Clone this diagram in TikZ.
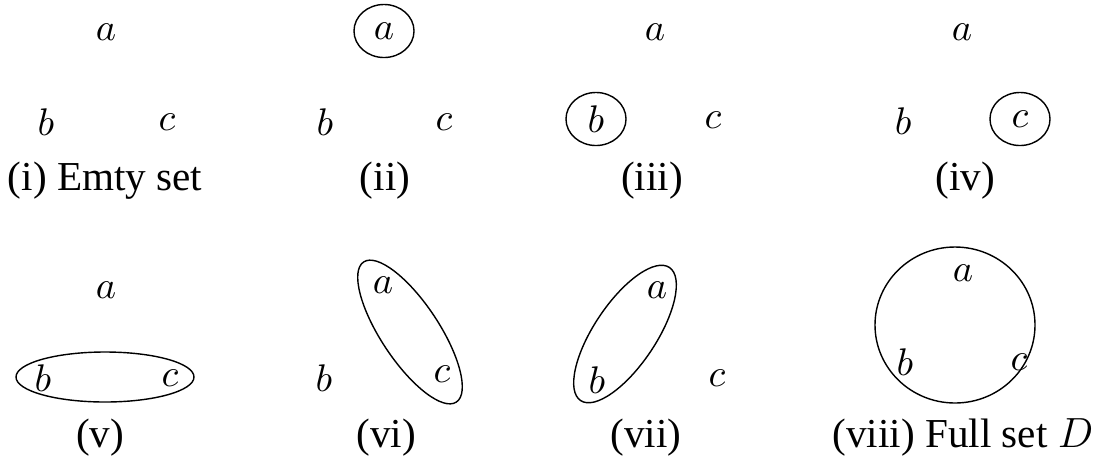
\documentclass[tikz,border=0pt]{standalone}
\usepackage{fontspec}
\setmainfont{Liberation Serif}
\usetikzlibrary{shapes.geometric}
\begin{document}
\begin{tikzpicture}[x=0.01cm,y=-0.01cm,font=\fontsize{11}{13}\selectfont,
      elt/.style={inner sep=0pt},
      sel/.style={draw,ellipse,minimum width=0.6cm,minimum height=0.53cm,inner sep=0pt},
      lbl/.style={inner sep=0pt,anchor=base,font=\fontsize{11.7}{14}\selectfont}]
    \useasboundingbox (0,0) rectangle (1097,457);
    % --- (i) ---
    \node[elt] (a1) at (106,32) {$a$};
    \node[elt] (b1) at (46,122) {$b$};
    \node[elt] (c1) at (167,122) {$c$};
    \node[lbl] (l1) at (105,190) {(i) Emty set};
    % --- (ii) ---
    \node[sel] (a2) at (384,31) {$a$};
    \node[elt] (b2) at (325,122) {$b$};
    \node[elt] (c2) at (444,122) {$c$};
    \node[lbl] (l2) at (385,190) {(ii)};
    % --- (iii) ---
    \node[elt] (a3) at (655,32) {$a$};
    \node[sel] (b3) at (596,119) {$b$};
    \node[elt] (c3) at (713,120) {$c$};
    \node[lbl] (l3) at (652,190) {(iii)};
    % --- (iv) ---
    \node[elt] (a4) at (962,32) {$a$};
    \node[elt] (b4) at (903,121) {$b$};
    \node[sel] (c4) at (1020,119) {$c$};
    \node[lbl] (l4) at (965,190) {(iv)};
    % --- (v) ---
    \node[elt] (a5) at (106,290) {$a$};
    \node[elt] (b5) at (43,378) {$b$};
    \node[elt] (c5) at (170,378) {$c$};
    \draw (105,377) ellipse (89 and 25);
    \node[lbl] (l5) at (100,447) {(v)};
    % --- (vi) ---
    \node[elt] (a6) at (383,285) {$a$};
    \node[elt] (b6) at (324,378) {$b$};
    \node[elt] (c6) at (442,374) {$c$};
    \draw[rotate around={-56.5:(410,332)}] (410,332) ellipse (84 and 29);
    \node[lbl] (l6) at (386,447) {(vi)};
    % --- (vii) ---
    \node[elt] (a7) at (657,290) {$a$};
    \node[elt] (b7) at (597,380) {$b$};
    \node[elt] (c7) at (717,378) {$c$};
    \draw[rotate around={56.3:(625,334)}] (625,334) ellipse (80 and 31);
    \node[lbl] (l7) at (646,447) {(vii)};
    % --- (viii) ---
    \node[elt] (a8) at (963,273) {$a$};
    \node[elt] (b8) at (905,362) {$b$};
    \node[elt] (c8) at (1019,362) {$c$};
    \draw (955,325) ellipse (80 and 78);
    \node[lbl] (l8) at (963,447) {(viii) Full set $D$};
\end{tikzpicture}
\end{document}
